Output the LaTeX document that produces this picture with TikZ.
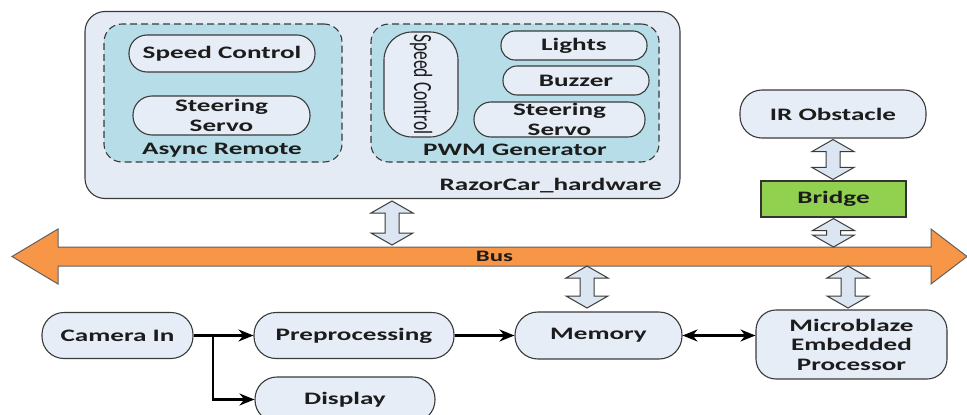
\documentclass[tikz,border=0pt]{standalone}
\usepackage{fontspec}
\usepackage{graphicx}
\setmainfont{Carlito}[FakeStretch=1.55]
\newfontfamily\plainlbl{Carlito}
\usetikzlibrary{calc,arrows.meta}
\definecolor{outerfill}{HTML}{E4EBF5}
\definecolor{pillfill}{HTML}{E6EDF7}
\definecolor{dashfill}{HTML}{B7DEE8}
\definecolor{busfill}{HTML}{F79646}
\definecolor{bridgefill}{HTML}{92D050}
\definecolor{hollowfill}{HTML}{DCE6F2}
\definecolor{edgecol}{HTML}{3A3A3A}
\definecolor{txtcol}{HTML}{1C1C1C}
\tikzset{
  lbl/.style={font=\fontsize{17.5}{19.5}\selectfont\bfseries, text=txtcol, inner sep=0pt, align=center},
  box/.style={lbl, draw=edgecol, line width=1.1pt, fill=pillfill},
  pill/.style={box, rounded corners=#1},
  pill/.default=18,
  dashbox/.style={draw=edgecol, line width=1.1pt, fill=dashfill, dash pattern=on 7pt off 4pt, rounded corners=18},
  hollowarrow/.style={draw=edgecol, line width=1pt, fill=hollowfill, line join=miter},
  flow/.style={line width=2.3pt, black, -{Stealth[length=15pt,width=12pt]}},
  biflow/.style={line width=2.3pt, black, {Stealth[length=15pt,width=12pt]}-{Stealth[length=15pt,width=12pt]}}
}
\newcommand\hollowdbl[2]{%
  \draw[hollowarrow] let \p1=(#1), \p2=(#2) in
    (\x1,\y1) -- (\x1+21pt,\y1-12pt) -- (\x1+7pt,\y1-12pt) -- (\x1+7pt,\y2+12pt)
    -- (\x1+21pt,\y2+12pt) -- (\x1,\y2) -- (\x1-21pt,\y2+12pt) -- (\x1-7pt,\y2+12pt)
    -- (\x1-7pt,\y1-12pt) -- (\x1-21pt,\y1-12pt) -- cycle;}
\begin{document}
\begin{tikzpicture}[x=1pt,y=-1pt]
\useasboundingbox (0,0) rectangle (967,415);
\clip (0,0) rectangle (967,415);
% outer hardware box
\node[draw=edgecol, line width=1.1pt, fill=outerfill, rounded corners=20, minimum width=595pt, minimum height=187pt, inner sep=0pt] (hw) at (382.5,105) {};
\node[lbl, anchor=east] (hwlbl) at (662,186) {RazorCar\_hardware};
% async remote
\node[dashbox, minimum width=238pt, minimum height=138pt, inner sep=0pt] (ar) at (223,93) {};
\node[lbl] (arlbl) at (222,150) {Async Remote};
\node[pill=18, minimum width=186pt, minimum height=37pt] (sc1) at (222,53.5) {Speed Control};
\node[pill=19, minimum width=177pt, minimum height=39pt] (ss1) at (221.5,115.5) {Steering\\Servo};
% PWM generator
\node[dashbox, minimum width=288pt, minimum height=138pt, inner sep=0pt] (pwm) at (515,93) {};
\node[lbl] (pwmlbl) at (515,150) {PWM Generator};
\node[pill=28, minimum width=74pt, minimum height=105pt] (sc2) at (421,84.5) {\scalebox{1.5}[1]{\rotatebox{-90}{\plainlbl\mdseries\fontsize{17.5}{19.5}\selectfont Speed Control}}};
\node[pill=14, minimum width=146pt, minimum height=29pt] (lights) at (574,45.5) {Lights};
\node[pill=14, minimum width=146pt, minimum height=29pt] (buzzer) at (576,80.5) {Buzzer};
\node[pill=17, minimum width=171pt, minimum height=35pt] (ss2) at (559.5,119.5) {Steering\\Servo};
% right side
\node[pill=22, minimum width=186pt, minimum height=48pt] (ir) at (833,114) {IR Obstacle};
\node[box, fill=bridgefill, draw=black!80, minimum width=145pt, minimum height=36pt] (bridge) at (833.5,199) {Bridge};
% bus
\coordinate (bus) at (494.5,256.5);
\draw[draw=edgecol!80, line width=1pt, fill=busfill, line join=miter]
  (12,256.5) -- (58,229) -- (58,247) -- (931,247) -- (931,229) -- (967,256.5)
  -- (931,284) -- (931,266) -- (58,266) -- (58,284) -- cycle;
\node[lbl, font=\fontsize{16}{18}\selectfont\bfseries] (buslbl) at (bus) {Bus};
% bottom row
\node[pill=22, minimum width=151pt, minimum height=46pt] (cam) at (117.5,335.5) {Camera In};
\node[pill=22, minimum width=200pt, minimum height=46pt] (prep) at (354,335.5) {Preprocessing};
\node[pill=22, minimum width=180pt, minimum height=45pt] (disp) at (345,399.5) {Display};
\node[pill=23, minimum width=167pt, minimum height=47pt] (mem) at (598.5,335.5) {Memory};
\node[pill=20, minimum width=191pt, minimum height=69pt] (micro) at (851.5,344.5) {Microblaze\\Embedded\\Processor};
% hollow double arrows
\coordinate (h1t) at (392,201);
\coordinate (h1b) at (392,245);
\hollowdbl{h1t}{h1b}
\coordinate (h2t) at ($(ir.south)+(0,1)$);
\coordinate (h2b) at ($(bridge.north)+(0,-1)$);
\hollowdbl{h2t}{h2b}
\coordinate (h3t) at ($(bridge.south)+(0,1)$);
\coordinate (h3b) at (833,247);
\hollowdbl{h3t}{h3b}
\coordinate (h4t) at (587,266);
\coordinate (h4b) at (587,308);
\hollowdbl{h4t}{h4b}
\coordinate (h5t) at (848,266);
\coordinate (h5b) at (848,308);
\hollowdbl{h5t}{h5b}
% flow arrows
\coordinate (branch) at (213,335.5);
\draw[line width=2.3pt] (cam.east) -- (branch);
\draw[flow] (branch) -- (prep.west);
\draw[flow] (branch) |- (disp.west);
\draw[flow] (prep.east) -- (mem.west);
\draw[biflow] (mem.east) -- (mem.east -| micro.west);
\end{tikzpicture}
\end{document}
